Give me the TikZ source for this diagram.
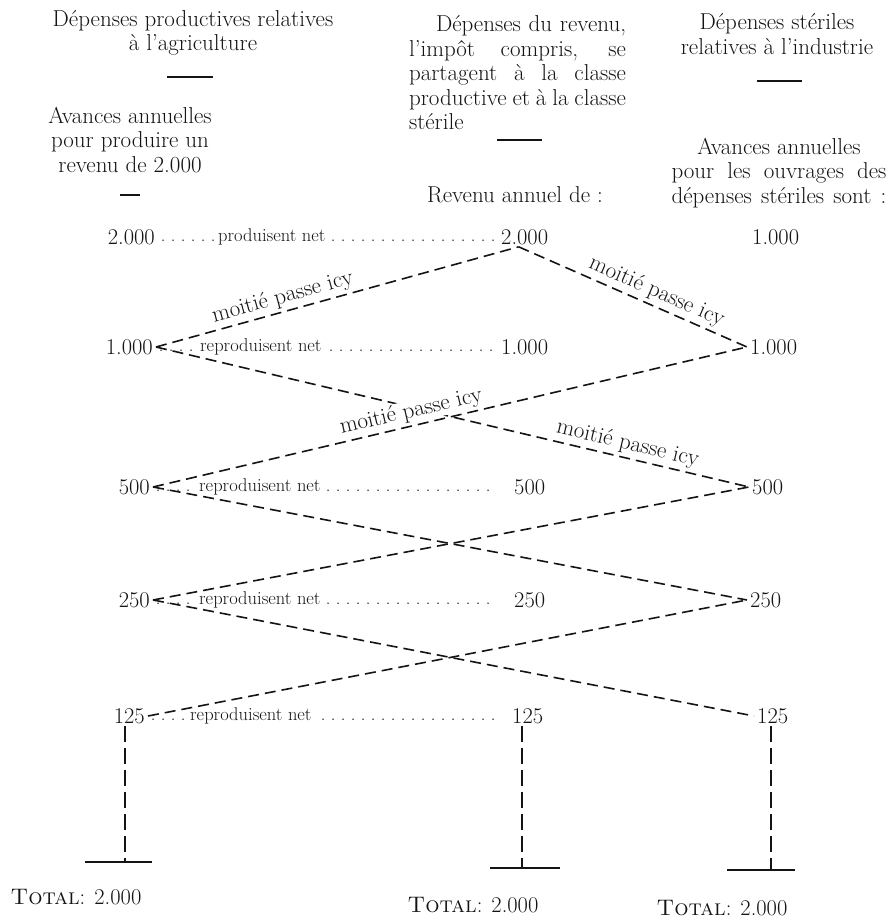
\documentclass[tikz,border=0pt]{standalone}
\usepackage{xcolor}
\usepackage{tikz}
\definecolor{ink}{HTML}{141414}
\newcommand{\hdfont}{\fontsize{23}{24.5}\selectfont}
\newcommand{\nmfont}{\fontsize{22.5}{24}\selectfont}
\newcommand{\rwfont}{\fontsize{18.5}{20}\selectfont}
\newcommand{\lbfont}{\fontsize{23}{24}\selectfont}
\newcommand{\leadfill}{\leaders\hbox to 10pt{\hss.\hss}\hfill}
\newcommand{\netrow}[4]{\hbox to #1{\hbox to #2{\leadfill}#3\leadfill\hskip #4}}

\begin{document}
\begin{tikzpicture}[x=1pt,y=1pt,
    txt/.style={text=ink,inner sep=0pt,font=\hdfont},
    lnum/.style={anchor=east,text=ink,inner xsep=3pt,inner ysep=2pt,font=\nmfont},
    rnum/.style={anchor=west,text=ink,inner xsep=3pt,inner ysep=2pt,font=\nmfont},
    mnum/.style={anchor=west,text=ink,inner xsep=2pt,inner ysep=2pt,font=\nmfont},
    dots/.style={anchor=west,text=ink,inner sep=0pt,font=\rwfont},
    half/.style={dash pattern=on 11pt off 6pt,line width=1.6pt,draw=ink},
    vert/.style={half,dash pattern=on 16pt off 6pt},
    lab/.style={text=ink,inner sep=1pt,font=\lbfont,sloped,above=2pt},
    bar/.style={line width=1.6pt,draw=ink}]

\useasboundingbox (0,0) rectangle (889,-924);

% ======================= column heads ==================================================
\node[txt,align=center] (hL) at (193,-33) {Dépenses productives relatives\\à l'agriculture};
\draw[bar] (167,-77) -- (213,-77);
\node[txt,align=center] (aL) at (130,-140) {Avances annuelles\\pour produire un\\revenu de 2.000};
\draw[bar] (120,-195) -- (140,-195);

\node[txt] (hM) at (517.5,-73) {\begin{minipage}{217pt}\parindent=27pt
Dépenses du revenu,\linebreak l'impôt compris, se\linebreak partagent à la classe\linebreak
productive et à la classe\linebreak stérile\end{minipage}};
\draw[bar] (497,-140) -- (542,-140);
\node[txt] (revM) at (515,-195) {Revenu annuel de :};

\node[txt,align=center] (hR) at (777,-34) {Dépenses stériles\\relatives à l'industrie};
\draw[bar] (757,-81) -- (802,-81);
\node[txt] (aR) at (779,-173) {\begin{minipage}{215pt}{\centering Avances annuelles\par}%
\parfillskip=0pt\relax pour les ouvrages des\linebreak dépenses stériles sont :\end{minipage}};

% ======================= rows of sums ==================================================
\node[lnum] (l1) at (158,-237) {2.000};
\node[mnum] (m1) at (499,-237) {2.000};
\node[rnum] (r1) at (749,-237) {1.000};
\node[dots] (d1) at (l1.east) {\netrow{341pt}{60pt}{produisent net}{0pt}};

\node[lnum] (l2) at (156,-347) {1.000};
\node[mnum] (m2) at (499,-347) {1.000};
\node[rnum] (r2) at (747,-347) {1.000};
\node[dots] (d2) at (l2.east) {\netrow{343pt}{44pt}{reproduisent net}{0pt}};

\node[lnum] (l3) at (153,-487) {500};
\node[mnum] (m3) at (512,-487) {500};
\node[rnum] (r3) at (749,-487) {500};
\node[dots] (d3) at (l3.east) {\netrow{359pt}{46pt}{reproduisent net}{12pt}};

\node[lnum] (l4) at (153,-600) {250};
\node[mnum] (m4) at (512,-600) {250};
\node[rnum] (r4) at (747,-600) {250};
\node[dots] (d4) at (l4.east) {\netrow{359pt}{46pt}{reproduisent net}{12pt}};

\node[lnum] (l5) at (148,-716) {125};
\node[mnum] (m5) at (510,-716) {125};
\node[rnum] (r5) at (754,-716) {125};
\node[dots] (d5) at (l5.east) {\netrow{362pt}{42pt}{reproduisent net}{12pt}};

% ======================= halves passing across =========================================
\draw[half] (l2.east) -- node[lab,pos=.36]{moitié passe icy} ([xshift=-6pt]m1.south);
\draw[half] ([xshift=-6pt]m1.south) -- node[lab,pos=.58]{moitié passe icy} (r2.west);
\draw[half] (l2.east) -- node[lab,pos=.79]{moitié passe icy} (r3.west);
\draw[half] (l3.east) -- node[lab,pos=.44,fill=white]{moitié passe icy} (r2.west);
\draw[half] (l3.east) -- (r4.west);
\draw[half] (l4.east) -- (r3.west);
\draw[half] (l4.east) -- (r5.west);
\draw[half] (l5.east) -- (r4.west);

% ======================= totals ========================================================
\coordinate (fL) at (125,-862);
\coordinate (fM) at (522,-868);
\coordinate (fR) at (771,-870);
\draw[vert] (fL |- l5.south) -- (fL);
\draw[vert] (fM |- m5.south) -- (fM);
\draw[vert] (fR |- r5.south) -- (fR);
\draw[bar] ([xshift=-40pt]fL) -- ([xshift=27pt]fL);
\draw[bar] ([xshift=-32pt]fM) -- ([xshift=38pt]fM);
\draw[bar] ([xshift=-44pt]fR) -- ([xshift=24pt]fR);

\node[txt,font=\fontsize{22.5}{24}\selectfont] (tL) at (76,-897)  {\textsc{Total}: 2.000};
\node[txt,font=\fontsize{22.5}{24}\selectfont] (tM) at (473,-905) {\textsc{Total}: 2.000};
\node[txt,font=\fontsize{22.5}{24}\selectfont] (tR) at (722,-908) {\textsc{Total}: 2.000};

\end{tikzpicture}
\end{document}
